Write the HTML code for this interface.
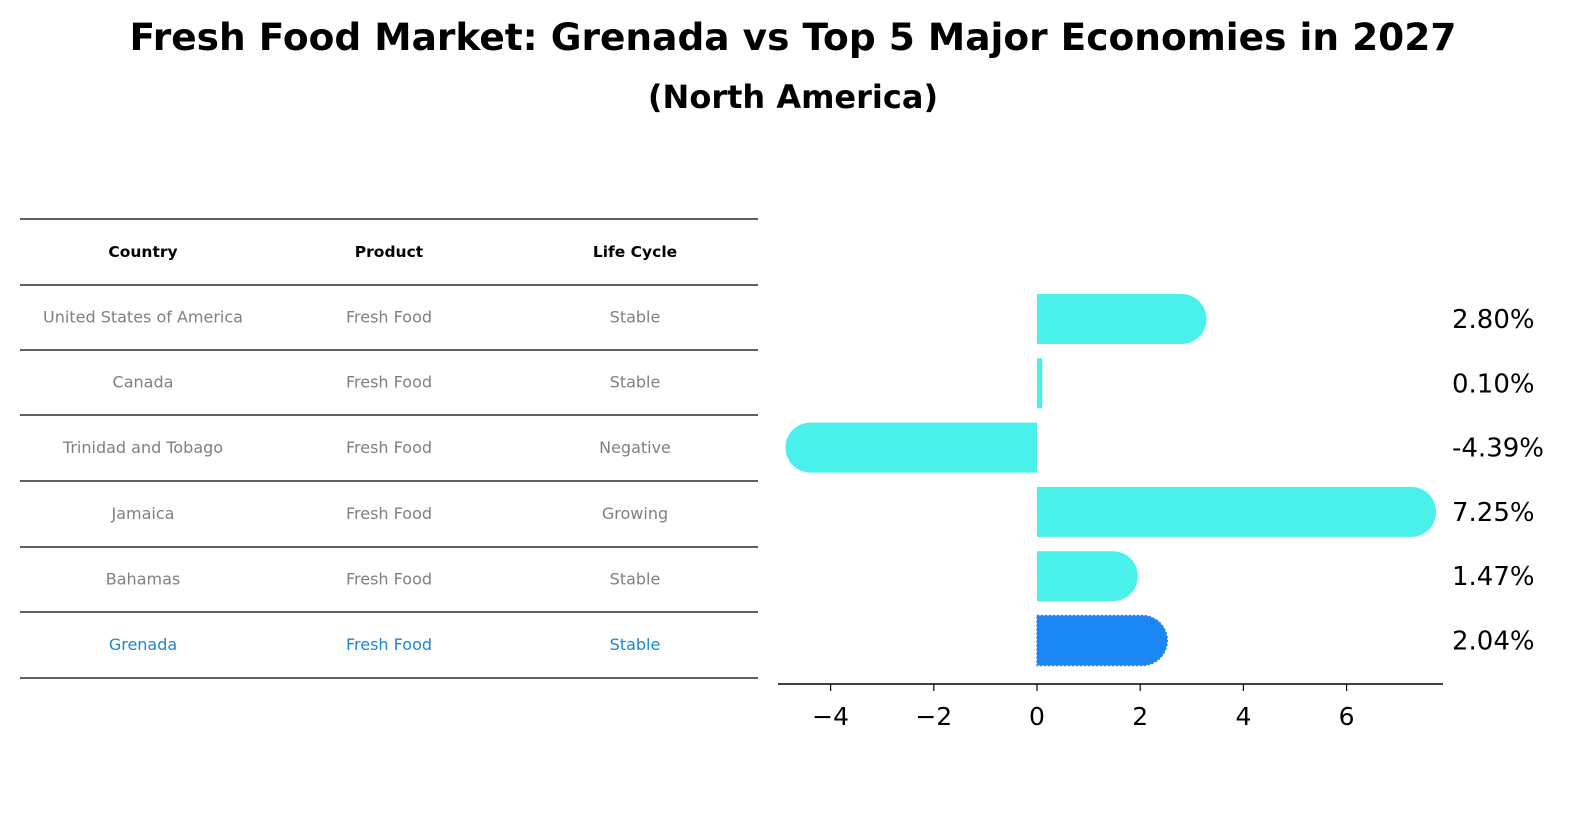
<!DOCTYPE html>
<html><head><meta charset="utf-8"><style>
body{margin:0;background:#fff;font-family:"Liberation Sans","DejaVu Sans",sans-serif;}
#wrap{position:relative;width:1596px;height:823px;overflow:hidden;}
</style></head><body>
<div id="wrap">
<svg id="svg" width="1596" height="823" xmlns="http://www.w3.org/2000/svg">
<text x="793" y="50" text-anchor="middle" font-family="DejaVu Sans, sans-serif" font-weight="bold" font-size="37.5">Fresh Food Market: Grenada vs Top 5 Major Economies in 2027</text>
<text x="793" y="108" text-anchor="middle" font-family="DejaVu Sans, sans-serif" font-weight="bold" font-size="32">(North America)</text>
<g id="table"></g>
<g id="bars"></g>
</svg>
</div>
<script>
const countries=["United States of America","Canada","Trinidad and Tobago","Jamaica","Bahamas","Grenada"];
const products=["Fresh Food","Fresh Food","Fresh Food","Fresh Food","Fresh Food","Fresh Food"];
const lifeCycles=["Stable","Stable","Negative","Growing","Stable","Stable"];
const growth=[2.80,0.10,-4.39,7.25,1.47,2.04];
const ticks=[-4,-2,0,2,4,6];
const NS="http://www.w3.org/2000/svg";
function mk(tag,attrs,parent){const e=document.createElementNS(NS,tag);for(const k in attrs)e.setAttribute(k,attrs[k]);parent.appendChild(e);return e;}
const tbl=document.getElementById('table');
const lineYs=[219,285,350,415,481,547,612,678];
lineYs.forEach(y=>{const l=mk('line',{x1:20,x2:758,y1:y,y2:y,stroke:'#000','stroke-width':1.2},tbl);

});
const colX=[143,389,635];
["Country","Product","Life Cycle"].forEach((h,i)=>{const t=mk('text',{x:colX[i],y:257,'text-anchor':'middle','font-size':15.5,'font-weight':'bold','font-family':'DejaVu Sans, sans-serif'},tbl);t.textContent=h;

});
countries.forEach((c,r)=>{const y=(lineYs[r+1]+lineYs[r+2])/2+5;const last=r===countries.length-1;
[c,products[r],lifeCycles[r]].forEach((v,i)=>{const t=mk('text',{x:colX[i],y:y,'text-anchor':'middle','font-size':16,fill:last?'#1a87d5':'#808080','font-family':'DejaVu Sans, sans-serif'},tbl);t.textContent=v;

});});
const g=document.getElementById('bars');
const x0=1037,ppu=51.6;
const xs=v=>x0+v*ppu;
const rowY=i=>319+i*64.3;
const bh=50,r=25;
growth.forEach((v,i)=>{const cy=rowY(i);const last=i===growth.length-1;const col=last?'#1a87f5':'#4af0ea';
const xe=xs(v);let d;
if(Math.abs(v)<0.5){d=`M${x0} ${cy-bh/2}H${xe}V${cy+bh/2}H${x0}Z`;}
else if(v>=0){d=`M${x0} ${cy-bh/2}H${xe}A${r} ${r} 0 0 1 ${xe} ${cy+bh/2}H${x0}Z`;}
else{d=`M${x0} ${cy-bh/2}H${xe}A${r} ${r} 0 0 0 ${xe} ${cy+bh/2}H${x0}Z`;}
const p=mk('path',{d:d,fill:col},g);
if(last){p.setAttribute('stroke','#3a7fd0');p.setAttribute('stroke-dasharray','2,2');p.setAttribute('stroke-width','1.5');}


const t=mk('text',{x:1452,y:cy+9,'font-size':26,'font-family':'DejaVu Sans, sans-serif'},g);t.textContent=v.toFixed(2)+'%';

});
const ax=mk('line',{x1:778,x2:1443,y1:684,y2:684,stroke:'#000','stroke-width':1.5},g);


ticks.forEach(v=>{const tk=mk('line',{x1:xs(v),x2:xs(v),y1:684,y2:691,stroke:'#000','stroke-width':1.2},g);


const t=mk('text',{x:xs(v),y:725,'text-anchor':'middle','font-size':25,'font-family':'DejaVu Sans, sans-serif'},g);t.textContent=v<0?'\u2212'+Math.abs(v):String(v);

});
</script>
</body></html>
